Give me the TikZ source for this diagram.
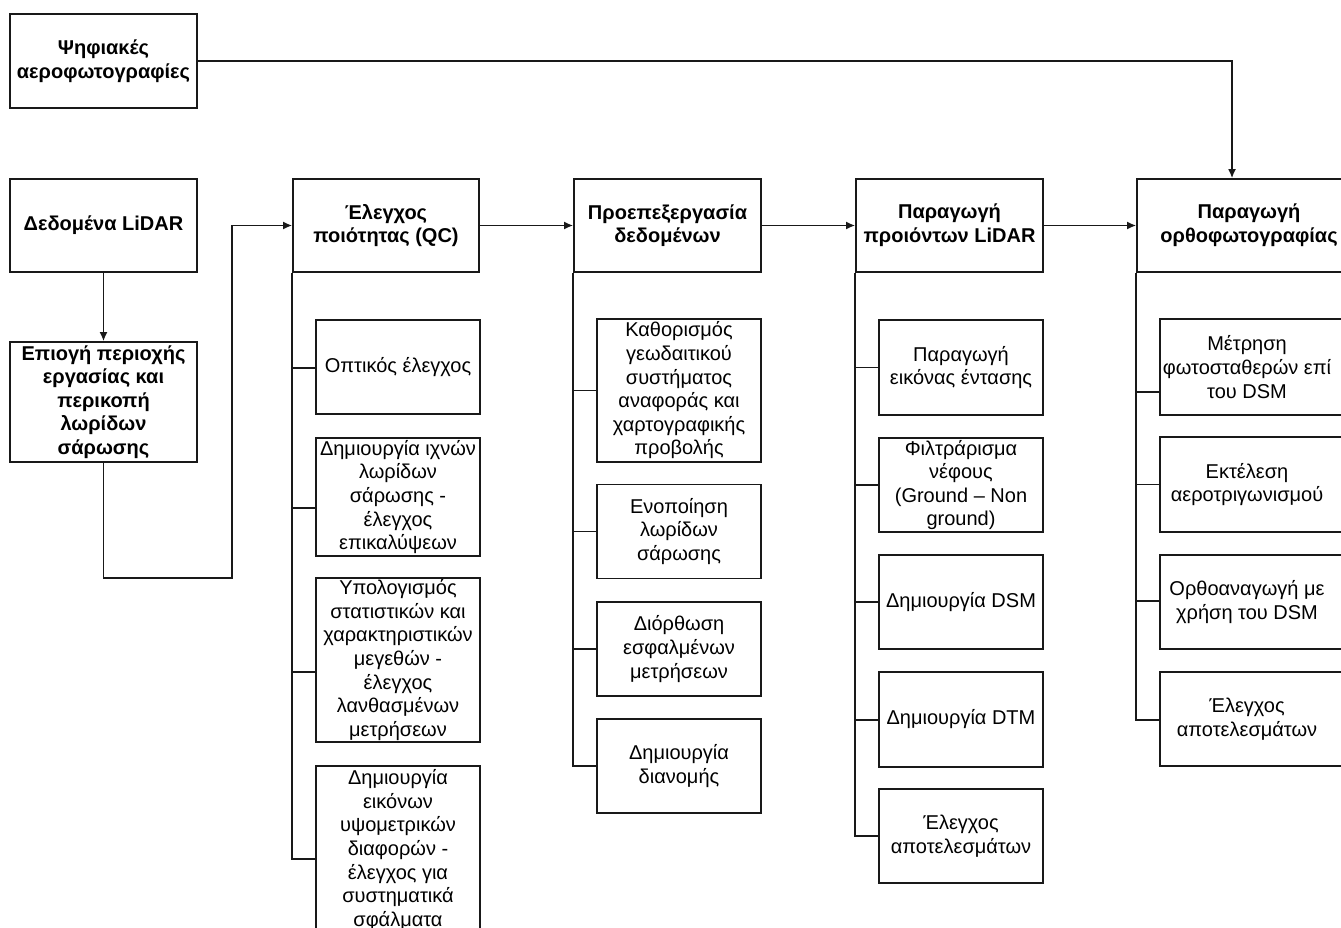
\documentclass[tikz,border=0pt]{standalone}
\usepackage{fontspec}
\setmainfont{Liberation Sans}
\usetikzlibrary{arrows.meta}
\begin{document}
\begin{tikzpicture}[x=1pt,y=-1pt,
  line width=1.6pt, draw={rgb,255:red,25;green,25;blue,25},
  box/.style={draw, fill=white, minimum width=#1, inner sep=0pt},
  head/.style={box=187pt, minimum height=93pt},
  sub/.style={box=164pt},
  txt/.style={align=center, inner sep=0pt, font=\fontsize{20}{23.6}\selectfont},
  btxt/.style={txt, font=\fontsize{20}{23.6}\selectfont\bfseries},
  arr/.style={draw={rgb,255:red,25;green,25;blue,25}, line width=1.9pt, -{Latex[length=9pt,width=8pt]}},
  con/.style={draw={rgb,255:red,25;green,25;blue,25}, line width=1.9pt}
]
\useasboundingbox (0,0) rectangle (1341,928);

% main boxes
\node[head, minimum height=94pt] (ps) at (103.5,61) {};
\node[btxt] (psT) at (ps) {Ψηφιακές\\αεροφωτογραφίες};
\node[head] (lid) at (103.5,225.5) {};
\node[btxt] (lidT) at (lid) {Δεδομένα LiDAR};
\node[head, minimum height=120pt] (epi) at (103.5,402) {};
\node[btxt] (epiT) at (epi) {Επιογή περιοχής\\εργασίας και\\περικοπή\\λωρίδων\\σάρωσης};
\node[head, minimum width=186pt] (qc) at (386,225.5) {};
\node[btxt] (qcT) at (qc) {Έλεγχος\\ποιότητας (QC)};
\node[head] (pre) at (667.5,225.5) {};
\node[btxt] (preT) at (pre) {Προεπεξεργασία\\δεδομένων};
\node[head] (prod) at (949.5,225.5) {};
\node[btxt] (prodT) at (prod) {Παραγωγή\\προιόντων LiDAR};
\node[head, minimum width=226pt] (orth) at (1250,225.5) {};
\node[btxt] (orthT) at (1249,225.5) {Παραγωγή\\ορθοφωτογραφίας};

% column 1 sub boxes
\node[sub, minimum height=94pt] (a1) at (398,367) {};
\node[txt] at (a1) {Οπτικός έλεγχος};
\node[sub, minimum height=118pt] (a2) at (398,497) {};
\node[txt] at (a2) {Δημιουργία ιχνών\\λωρίδων\\σάρωσης -\\έλεγχος\\επικαλύψεων};
\node[sub, minimum height=164pt] (a3) at (398,660) {};
\node[txt] at (a3) {Υπολογισμός\\στατιστικών και\\χαρακτηριστικών\\μεγεθών -\\έλεγχος\\λανθασμένων\\μετρήσεων};
\node[sub, minimum height=168pt] (a4) at (398,850) {};
\node[txt] at (a4) {Δημιουργία\\εικόνων\\υψομετρικών\\διαφορών -\\έλεγχος για\\συστηματικά\\σφάλματα};

% column 2 sub boxes
\node[sub, minimum height=143pt] (b1) at (679,390.5) {};
\node[txt] at (b1) {Καθορισμός\\γεωδαιτικού\\συστήματος\\αναφοράς και\\χαρτογραφικής\\προβολής};
\node[sub, minimum height=94pt] (b2) at (679,531.5) {};
\node[txt] at (b2) {Ενοποίηση\\λωρίδων\\σάρωσης};
\node[sub, minimum height=94pt] (b3) at (679,649) {};
\node[txt] at (b3) {Διόρθωση\\εσφαλμένων\\μετρήσεων};
\node[sub, minimum height=94pt] (b4) at (679,766) {};
\node[txt] at (b4) {Δημιουργία\\διανομής};

% column 3 sub boxes
\node[sub, minimum height=95pt] (c1) at (961,367.5) {};
\node[txt] at (c1) {Παραγωγή\\εικόνας έντασης};
\node[sub, minimum height=94pt] (c2) at (961,485) {};
\node[txt] at (c2) {Φιλτράρισμα\\νέφους\\(Ground – Non\\ground)};
\node[sub, minimum height=94pt] (c3) at (961,602) {};
\node[txt] at (c3) {Δημιουργία DSM};
\node[sub, minimum height=95pt] (c4) at (961,719.5) {};
\node[txt] at (c4) {Δημιουργία DTM};
\node[sub, minimum height=94pt] (c5) at (961,836) {};
\node[txt] at (c5) {Έλεγχος\\αποτελεσμάτων};

% column 4 sub boxes
\node[sub, minimum width=186pt, minimum height=96pt] (d1) at (1253,367) {};
\node[txt] at (1247,367) {Μέτρηση\\φωτοσταθερών επί\\του DSM};
\node[sub, minimum width=186pt, minimum height=95pt] (d2) at (1253,484.5) {};
\node[txt] at (1247,484.5) {Εκτέλεση\\αεροτριγωνισμού};
\node[sub, minimum width=186pt, minimum height=94pt] (d3) at (1253,602) {};
\node[txt] at (1247,602) {Ορθοαναγωγή με\\χρήση του DSM};
\node[sub, minimum width=186pt, minimum height=94pt] (d4) at (1253,719) {};
\node[txt] at (1247,719) {Έλεγχος\\αποτελεσμάτων};

% main connectors
\coordinate (k1) at (1232,61);
\draw[arr] (ps.east) -- (k1) -- (orth.north -| k1);
\draw[arr] (lid.south) -- (epi.north);
\coordinate (k3) at (232,578);
\draw[arr] (epi.south) -- (epi.south |- k3) -- (k3) -- (k3 |- qc.west) -- (qc.west);
\draw[arr] (qc.east) -- (pre.west);
\draw[arr] (pre.east) -- (prod.west);
\draw[arr] (prod.east) -- (orth.west);

% tree connectors column 1
\draw[con] (qc.south west) |- ([yshift=-1pt]a1.west);
\draw[con] (qc.south west) |- ([yshift=-11pt]a2.west);
\draw[con] (qc.south west) |- ([yshift=-12pt]a3.west);
\draw[con] (qc.south west) |- ([yshift=-9pt]a4.west);
% column 2
\draw[con] (pre.south west) |- (b1.west);
\draw[con] (pre.south west) |- (b2.west);
\draw[con] (pre.south west) |- (b3.west);
\draw[con] (pre.south west) |- (b4.west);
% column 3
\draw[con] (prod.south west) |- (c1.west);
\draw[con] (prod.south west) |- (c2.west);
\draw[con] (prod.south west) |- (c3.west);
\draw[con] (prod.south west) |- ([yshift=-0.5pt]c4.west);
\draw[con] (prod.south west) |- (c5.west);
% column 4
\draw[con] (orth.south west) |- ([yshift=-25pt]d1.west);
\draw[con] (orth.south west) |- (d2.west);
\draw[con] (orth.south west) |- ([yshift=1pt]d3.west);
\draw[con] (orth.south west) |- ([yshift=-1pt]d4.west);
\end{tikzpicture}
\end{document}
